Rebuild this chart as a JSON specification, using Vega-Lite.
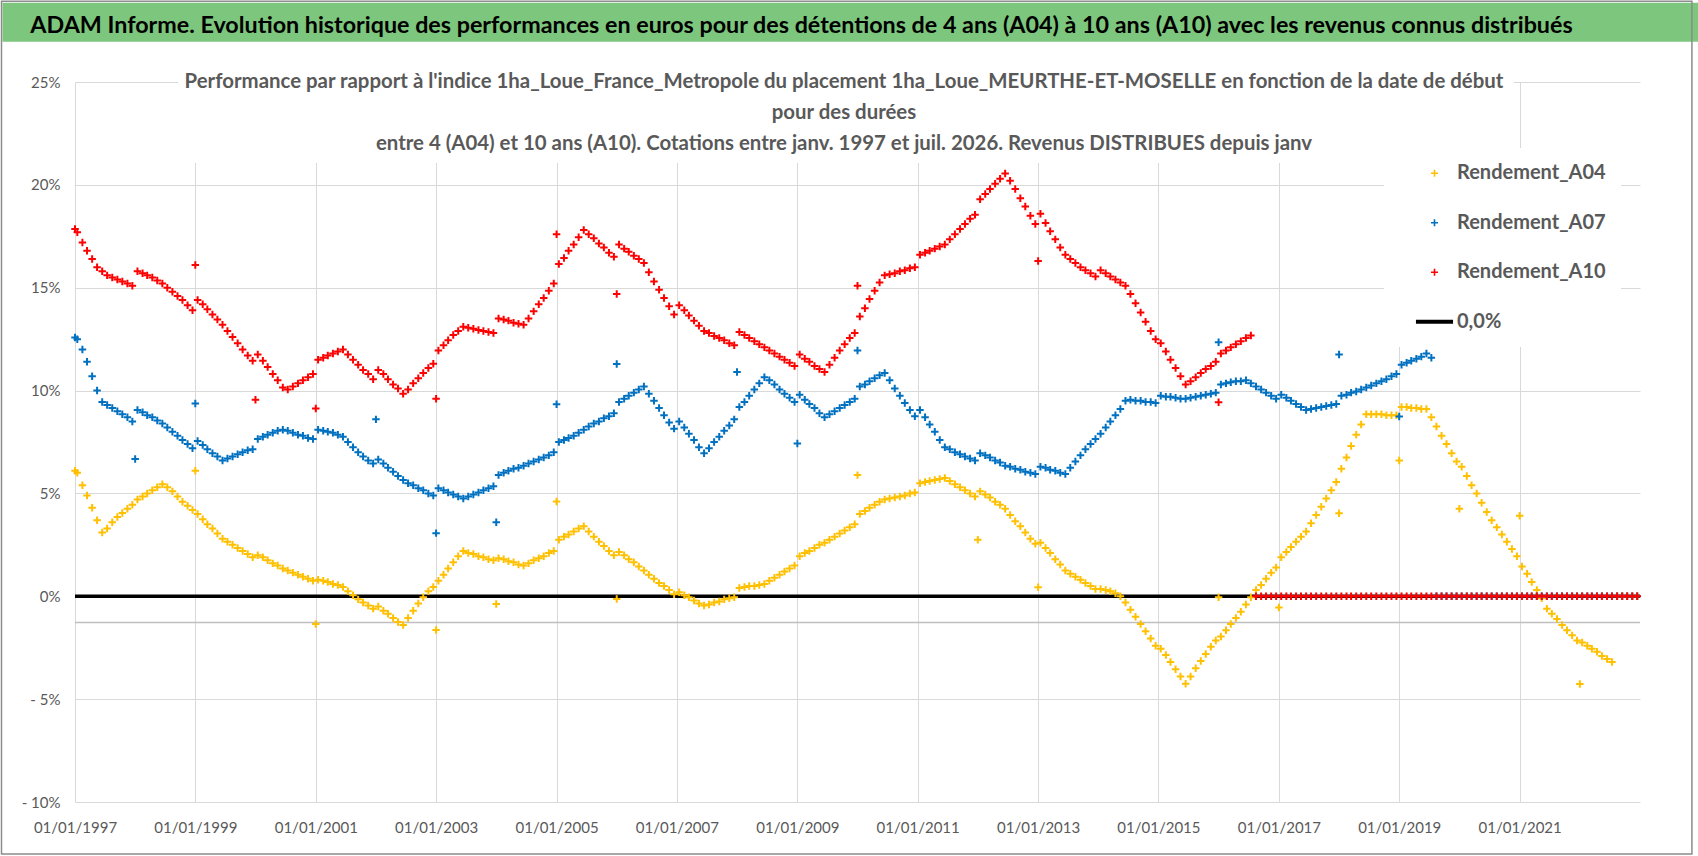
{
"$schema":"https://vega.github.io/schema/vega-lite/v6.json",
"width":1565,"height":720,
"autosize":{"type":"none"},
"padding":{"left":75,"top":82,"right":58,"bottom":54},
"background":"white",
"config":{"view":{"stroke":null},"font":"Lato",
 "axis":{"grid":true,"gridColor":"#D9D9D9","gridWidth":1,"domain":false,"ticks":false,"tickSize":0,"labelFont":"Lato","labelFontSize":15,"labelColor":"#595959","title":null}},
"data":{"values":[
{"d":"1997-01-01","A04":6.1,"A07":12.58,"A10":17.85},
{"d":"1997-01-15","A04":6.0,"A07":12.5,"A10":17.7},
{"d":"1997-02-15","A04":5.4,"A07":12.0,"A10":17.2},
{"d":"1997-03-15","A04":4.9,"A07":11.4,"A10":16.8},
{"d":"1997-04-15","A04":4.3,"A07":10.7,"A10":16.4},
{"d":"1997-05-15","A04":3.7,"A07":10.0,"A10":16.0},
{"d":"1997-06-15","A04":3.1,"A07":9.45,"A10":15.8},
{"d":"1997-07-15","A04":3.3,"A07":9.3,"A10":15.6},
{"d":"1997-08-15","A04":3.6,"A07":9.15,"A10":15.5},
{"d":"1997-09-15","A04":3.85,"A07":9.0,"A10":15.4},
{"d":"1997-10-15","A04":4.05,"A07":8.85,"A10":15.3},
{"d":"1997-11-15","A04":4.25,"A07":8.7,"A10":15.2},
{"d":"1997-12-15","A04":4.45,"A07":8.5,"A10":15.1},
{"d":"1998-01-01","A07":6.67},
{"d":"1998-01-15","A04":4.7,"A07":9.05,"A10":15.8},
{"d":"1998-02-15","A04":4.85,"A07":8.95,"A10":15.7},
{"d":"1998-03-15","A04":5.0,"A07":8.8,"A10":15.6},
{"d":"1998-04-15","A04":5.15,"A07":8.7,"A10":15.5},
{"d":"1998-05-15","A04":5.3,"A07":8.55,"A10":15.35},
{"d":"1998-06-15","A04":5.45,"A07":8.4,"A10":15.2},
{"d":"1998-07-15","A04":5.3,"A07":8.2,"A10":15.0},
{"d":"1998-08-15","A04":5.1,"A07":8.0,"A10":14.8},
{"d":"1998-09-15","A04":4.85,"A07":7.8,"A10":14.6},
{"d":"1998-10-15","A04":4.6,"A07":7.6,"A10":14.4},
{"d":"1998-11-15","A04":4.4,"A07":7.4,"A10":14.15},
{"d":"1998-12-15","A04":4.2,"A07":7.2,"A10":13.9},
{"d":"1999-01-01","A04":6.1,"A07":9.37,"A10":16.1},
{"d":"1999-01-15","A04":4.0,"A07":7.55,"A10":14.4},
{"d":"1999-02-15","A04":3.75,"A07":7.35,"A10":14.2},
{"d":"1999-03-15","A04":3.5,"A07":7.15,"A10":13.95},
{"d":"1999-04-15","A04":3.3,"A07":6.95,"A10":13.7},
{"d":"1999-05-15","A04":3.05,"A07":6.8,"A10":13.45},
{"d":"1999-06-15","A04":2.8,"A07":6.6,"A10":13.2},
{"d":"1999-07-15","A04":2.65,"A07":6.7,"A10":12.9},
{"d":"1999-08-15","A04":2.5,"A07":6.8,"A10":12.6},
{"d":"1999-09-15","A04":2.35,"A07":6.9,"A10":12.3},
{"d":"1999-10-15","A04":2.2,"A07":7.0,"A10":12.0},
{"d":"1999-11-15","A04":2.05,"A07":7.1,"A10":11.7},
{"d":"1999-12-15","A04":1.9,"A07":7.15,"A10":11.45},
{"d":"2000-01-01","A10":9.55},
{"d":"2000-01-15","A04":2.0,"A07":7.65,"A10":11.75},
{"d":"2000-02-15","A04":1.9,"A07":7.75,"A10":11.45},
{"d":"2000-03-15","A04":1.75,"A07":7.85,"A10":11.15},
{"d":"2000-04-15","A04":1.6,"A07":7.95,"A10":10.8},
{"d":"2000-05-15","A04":1.5,"A07":8.05,"A10":10.5},
{"d":"2000-06-15","A04":1.35,"A07":8.1,"A10":10.15},
{"d":"2000-07-15","A04":1.25,"A07":8.05,"A10":10.05},
{"d":"2000-08-15","A04":1.15,"A07":7.95,"A10":10.2},
{"d":"2000-09-15","A04":1.05,"A07":7.85,"A10":10.35},
{"d":"2000-10-15","A04":0.95,"A07":7.8,"A10":10.5},
{"d":"2000-11-15","A04":0.85,"A07":7.7,"A10":10.65},
{"d":"2000-12-15","A04":0.75,"A07":7.65,"A10":10.8},
{"d":"2001-01-01","A04":-1.35,"A10":9.13},
{"d":"2001-01-15","A04":0.8,"A07":8.1,"A10":11.5},
{"d":"2001-02-15","A04":0.75,"A07":8.05,"A10":11.6},
{"d":"2001-03-15","A04":0.7,"A07":8.0,"A10":11.7},
{"d":"2001-04-15","A04":0.6,"A07":7.95,"A10":11.8},
{"d":"2001-05-15","A04":0.55,"A07":7.85,"A10":11.9},
{"d":"2001-06-15","A04":0.45,"A07":7.75,"A10":12.0},
{"d":"2001-07-15","A04":0.25,"A07":7.5,"A10":11.75},
{"d":"2001-08-15","A04":0.05,"A07":7.25,"A10":11.5},
{"d":"2001-09-15","A04":-0.15,"A07":7.0,"A10":11.25},
{"d":"2001-10-15","A04":-0.3,"A07":6.8,"A10":11.0},
{"d":"2001-11-15","A04":-0.45,"A07":6.6,"A10":10.8},
{"d":"2001-12-15","A04":-0.6,"A07":6.45,"A10":10.55},
{"d":"2002-01-01","A07":8.6},
{"d":"2002-01-15","A04":-0.5,"A07":6.65,"A10":11.0},
{"d":"2002-02-15","A04":-0.7,"A07":6.45,"A10":10.8},
{"d":"2002-03-15","A04":-0.85,"A07":6.25,"A10":10.55},
{"d":"2002-04-15","A04":-1.05,"A07":6.05,"A10":10.3},
{"d":"2002-05-15","A04":-1.25,"A07":5.85,"A10":10.1},
{"d":"2002-06-15","A04":-1.4,"A07":5.65,"A10":9.85},
{"d":"2002-07-15","A04":-1.05,"A07":5.5,"A10":10.05},
{"d":"2002-08-15","A04":-0.7,"A07":5.4,"A10":10.35},
{"d":"2002-09-15","A04":-0.35,"A07":5.25,"A10":10.6},
{"d":"2002-10-15","A04":-0.05,"A07":5.15,"A10":10.85},
{"d":"2002-11-15","A04":0.25,"A07":5.0,"A10":11.1},
{"d":"2002-12-15","A04":0.45,"A07":4.9,"A10":11.3},
{"d":"2003-01-01","A04":-1.64,"A07":3.07,"A10":9.6},
{"d":"2003-01-15","A04":0.75,"A07":5.25,"A10":11.95},
{"d":"2003-02-15","A04":1.05,"A07":5.15,"A10":12.2},
{"d":"2003-03-15","A04":1.35,"A07":5.05,"A10":12.45},
{"d":"2003-04-15","A04":1.65,"A07":4.95,"A10":12.7},
{"d":"2003-05-15","A04":1.95,"A07":4.85,"A10":12.9},
{"d":"2003-06-15","A04":2.2,"A07":4.75,"A10":13.1},
{"d":"2003-07-15","A04":2.1,"A07":4.85,"A10":13.05},
{"d":"2003-08-15","A04":2.05,"A07":4.95,"A10":13.0},
{"d":"2003-09-15","A04":1.95,"A07":5.05,"A10":12.95},
{"d":"2003-10-15","A04":1.9,"A07":5.15,"A10":12.9},
{"d":"2003-11-15","A04":1.8,"A07":5.25,"A10":12.85},
{"d":"2003-12-15","A04":1.75,"A07":5.35,"A10":12.8},
{"d":"2004-01-01","A04":-0.38,"A07":3.6},
{"d":"2004-01-15","A04":1.85,"A07":5.9,"A10":13.5},
{"d":"2004-02-15","A04":1.8,"A07":6.0,"A10":13.45},
{"d":"2004-03-15","A04":1.7,"A07":6.1,"A10":13.4},
{"d":"2004-04-15","A04":1.65,"A07":6.2,"A10":13.3},
{"d":"2004-05-15","A04":1.55,"A07":6.25,"A10":13.25},
{"d":"2004-06-15","A04":1.5,"A07":6.35,"A10":13.2},
{"d":"2004-07-15","A04":1.6,"A07":6.45,"A10":13.5},
{"d":"2004-08-15","A04":1.75,"A07":6.55,"A10":13.85},
{"d":"2004-09-15","A04":1.85,"A07":6.65,"A10":14.2},
{"d":"2004-10-15","A04":1.95,"A07":6.75,"A10":14.5},
{"d":"2004-11-15","A04":2.1,"A07":6.85,"A10":14.85},
{"d":"2004-12-15","A04":2.2,"A07":7.0,"A10":15.2},
{"d":"2005-01-01","A04":4.61,"A07":9.34,"A10":17.6},
{"d":"2005-01-15","A04":2.75,"A07":7.5,"A10":16.15},
{"d":"2005-02-15","A04":2.9,"A07":7.6,"A10":16.45},
{"d":"2005-03-15","A04":3.0,"A07":7.7,"A10":16.8},
{"d":"2005-04-15","A04":3.15,"A07":7.8,"A10":17.1},
{"d":"2005-05-15","A04":3.3,"A07":7.95,"A10":17.45},
{"d":"2005-06-15","A04":3.4,"A07":8.1,"A10":17.8},
{"d":"2005-07-15","A04":3.15,"A07":8.25,"A10":17.6},
{"d":"2005-08-15","A04":2.9,"A07":8.4,"A10":17.4},
{"d":"2005-09-15","A04":2.65,"A07":8.5,"A10":17.15},
{"d":"2005-10-15","A04":2.45,"A07":8.65,"A10":16.95},
{"d":"2005-11-15","A04":2.2,"A07":8.75,"A10":16.7},
{"d":"2005-12-15","A04":2.0,"A07":8.9,"A10":16.5},
{"d":"2006-01-01","A04":-0.13,"A07":11.29,"A10":14.7},
{"d":"2006-01-15","A04":2.15,"A07":9.45,"A10":17.1},
{"d":"2006-02-15","A04":2.0,"A07":9.6,"A10":16.9},
{"d":"2006-03-15","A04":1.8,"A07":9.75,"A10":16.75},
{"d":"2006-04-15","A04":1.65,"A07":9.9,"A10":16.55},
{"d":"2006-05-15","A04":1.45,"A07":10.05,"A10":16.4},
{"d":"2006-06-15","A04":1.25,"A07":10.2,"A10":16.2},
{"d":"2006-07-15","A04":1.05,"A07":9.85,"A10":15.75},
{"d":"2006-08-15","A04":0.85,"A07":9.5,"A10":15.3},
{"d":"2006-09-15","A04":0.65,"A07":9.15,"A10":14.9},
{"d":"2006-10-15","A04":0.5,"A07":8.8,"A10":14.5},
{"d":"2006-11-15","A04":0.3,"A07":8.45,"A10":14.1},
{"d":"2006-12-15","A04":0.1,"A07":8.15,"A10":13.7},
{"d":"2007-01-15","A04":0.2,"A07":8.5,"A10":14.15},
{"d":"2007-02-15","A04":0.05,"A07":8.2,"A10":13.9},
{"d":"2007-03-15","A04":-0.05,"A07":7.9,"A10":13.65},
{"d":"2007-04-15","A04":-0.2,"A07":7.6,"A10":13.4},
{"d":"2007-05-15","A04":-0.35,"A07":7.25,"A10":13.15},
{"d":"2007-06-15","A04":-0.45,"A07":6.95,"A10":12.9},
{"d":"2007-07-15","A04":-0.4,"A07":7.2,"A10":12.8},
{"d":"2007-08-15","A04":-0.3,"A07":7.5,"A10":12.65},
{"d":"2007-09-15","A04":-0.25,"A07":7.75,"A10":12.55},
{"d":"2007-10-15","A04":-0.15,"A07":8.05,"A10":12.45},
{"d":"2007-11-15","A04":-0.1,"A07":8.3,"A10":12.3},
{"d":"2007-12-15","A04":-0.05,"A07":8.6,"A10":12.2},
{"d":"2008-01-01","A07":10.9},
{"d":"2008-01-15","A04":0.4,"A07":9.2,"A10":12.85},
{"d":"2008-02-15","A04":0.45,"A07":9.45,"A10":12.7},
{"d":"2008-03-15","A04":0.5,"A07":9.75,"A10":12.55},
{"d":"2008-04-15","A04":0.5,"A07":10.05,"A10":12.4},
{"d":"2008-05-15","A04":0.55,"A07":10.35,"A10":12.25},
{"d":"2008-06-15","A04":0.6,"A07":10.65,"A10":12.1},
{"d":"2008-07-15","A04":0.75,"A07":10.5,"A10":11.95},
{"d":"2008-08-15","A04":0.9,"A07":10.3,"A10":11.8},
{"d":"2008-09-15","A04":1.05,"A07":10.05,"A10":11.65},
{"d":"2008-10-15","A04":1.2,"A07":9.85,"A10":11.5},
{"d":"2008-11-15","A04":1.35,"A07":9.65,"A10":11.35},
{"d":"2008-12-15","A04":1.5,"A07":9.45,"A10":11.2},
{"d":"2009-01-01","A07":7.43},
{"d":"2009-01-15","A04":1.95,"A07":9.8,"A10":11.75},
{"d":"2009-02-15","A04":2.1,"A07":9.55,"A10":11.55},
{"d":"2009-03-15","A04":2.2,"A07":9.35,"A10":11.4},
{"d":"2009-04-15","A04":2.35,"A07":9.15,"A10":11.2},
{"d":"2009-05-15","A04":2.5,"A07":8.9,"A10":11.05},
{"d":"2009-06-15","A04":2.6,"A07":8.7,"A10":10.9},
{"d":"2009-07-15","A04":2.75,"A07":8.85,"A10":11.25},
{"d":"2009-08-15","A04":2.9,"A07":9.0,"A10":11.6},
{"d":"2009-09-15","A04":3.05,"A07":9.15,"A10":11.95},
{"d":"2009-10-15","A04":3.2,"A07":9.3,"A10":12.25},
{"d":"2009-11-15","A04":3.35,"A07":9.45,"A10":12.55},
{"d":"2009-12-15","A04":3.5,"A07":9.6,"A10":12.8},
{"d":"2010-01-01","A04":5.89,"A07":11.95,"A10":15.1},
{"d":"2010-01-15","A04":4.0,"A07":10.2,"A10":13.6},
{"d":"2010-02-15","A04":4.15,"A07":10.3,"A10":14.0},
{"d":"2010-03-15","A04":4.3,"A07":10.45,"A10":14.45},
{"d":"2010-04-15","A04":4.45,"A07":10.6,"A10":14.85},
{"d":"2010-05-15","A04":4.6,"A07":10.75,"A10":15.25},
{"d":"2010-06-15","A04":4.7,"A07":10.85,"A10":15.6},
{"d":"2010-07-15","A04":4.75,"A07":10.5,"A10":15.65},
{"d":"2010-08-15","A04":4.8,"A07":10.1,"A10":15.7},
{"d":"2010-09-15","A04":4.85,"A07":9.75,"A10":15.8},
{"d":"2010-10-15","A04":4.9,"A07":9.4,"A10":15.85},
{"d":"2010-11-15","A04":5.0,"A07":9.05,"A10":15.95},
{"d":"2010-12-15","A04":5.05,"A07":8.75,"A10":16.0},
{"d":"2011-01-15","A04":5.5,"A07":9.05,"A10":16.6},
{"d":"2011-02-15","A04":5.55,"A07":8.7,"A10":16.7},
{"d":"2011-03-15","A04":5.6,"A07":8.35,"A10":16.8},
{"d":"2011-04-15","A04":5.65,"A07":8.0,"A10":16.9},
{"d":"2011-05-15","A04":5.7,"A07":7.6,"A10":17.0},
{"d":"2011-06-15","A04":5.75,"A07":7.25,"A10":17.1},
{"d":"2011-07-15","A04":5.6,"A07":7.15,"A10":17.35},
{"d":"2011-08-15","A04":5.45,"A07":7.0,"A10":17.6},
{"d":"2011-09-15","A04":5.3,"A07":6.9,"A10":17.85},
{"d":"2011-10-15","A04":5.15,"A07":6.8,"A10":18.1},
{"d":"2011-11-15","A04":5.0,"A07":6.7,"A10":18.35},
{"d":"2011-12-15","A04":4.85,"A07":6.6,"A10":18.55},
{"d":"2012-01-01","A04":2.75},
{"d":"2012-01-15","A04":5.1,"A07":6.95,"A10":19.3},
{"d":"2012-02-15","A04":4.95,"A07":6.85,"A10":19.55},
{"d":"2012-03-15","A04":4.8,"A07":6.75,"A10":19.8},
{"d":"2012-04-15","A04":4.6,"A07":6.6,"A10":20.05},
{"d":"2012-05-15","A04":4.45,"A07":6.5,"A10":20.3},
{"d":"2012-06-15","A04":4.25,"A07":6.35,"A10":20.55},
{"d":"2012-07-15","A04":3.95,"A07":6.3,"A10":20.2},
{"d":"2012-08-15","A04":3.65,"A07":6.2,"A10":19.8},
{"d":"2012-09-15","A04":3.4,"A07":6.15,"A10":19.35},
{"d":"2012-10-15","A04":3.1,"A07":6.05,"A10":18.95},
{"d":"2012-11-15","A04":2.8,"A07":6.0,"A10":18.5},
{"d":"2012-12-15","A04":2.55,"A07":5.95,"A10":18.1},
{"d":"2013-01-01","A04":0.44,"A10":16.3},
{"d":"2013-01-15","A04":2.6,"A07":6.3,"A10":18.6},
{"d":"2013-02-15","A04":2.35,"A07":6.25,"A10":18.15},
{"d":"2013-03-15","A04":2.1,"A07":6.15,"A10":17.75},
{"d":"2013-04-15","A04":1.8,"A07":6.1,"A10":17.35},
{"d":"2013-05-15","A04":1.55,"A07":6.0,"A10":16.95},
{"d":"2013-06-15","A04":1.25,"A07":5.95,"A10":16.6},
{"d":"2013-07-15","A04":1.1,"A07":6.25,"A10":16.4},
{"d":"2013-08-15","A04":0.95,"A07":6.55,"A10":16.2},
{"d":"2013-09-15","A04":0.8,"A07":6.85,"A10":16.0},
{"d":"2013-10-15","A04":0.65,"A07":7.15,"A10":15.85},
{"d":"2013-11-15","A04":0.5,"A07":7.4,"A10":15.7},
{"d":"2013-12-15","A04":0.35,"A07":7.65,"A10":15.55},
{"d":"2014-01-15","A04":0.35,"A07":7.9,"A10":15.85},
{"d":"2014-02-15","A04":0.3,"A07":8.2,"A10":15.7},
{"d":"2014-03-15","A04":0.25,"A07":8.5,"A10":15.55},
{"d":"2014-04-15","A04":0.15,"A07":8.8,"A10":15.4},
{"d":"2014-05-15","A04":0.0,"A07":9.1,"A10":15.25},
{"d":"2014-06-15","A04":-0.3,"A07":9.5,"A10":15.1},
{"d":"2014-07-15","A04":-0.65,"A07":9.55,"A10":14.7},
{"d":"2014-08-15","A04":-1.0,"A07":9.5,"A10":14.25},
{"d":"2014-09-15","A04":-1.35,"A07":9.5,"A10":13.8},
{"d":"2014-10-15","A04":-1.7,"A07":9.45,"A10":13.35},
{"d":"2014-11-15","A04":-2.05,"A07":9.45,"A10":12.9},
{"d":"2014-12-15","A04":-2.4,"A07":9.4,"A10":12.5},
{"d":"2015-01-15","A04":-2.55,"A07":9.75,"A10":12.3},
{"d":"2015-02-15","A04":-2.85,"A07":9.7,"A10":11.9},
{"d":"2015-03-15","A04":-3.2,"A07":9.7,"A10":11.5},
{"d":"2015-04-15","A04":-3.55,"A07":9.65,"A10":11.1},
{"d":"2015-05-15","A04":-3.9,"A07":9.6,"A10":10.7},
{"d":"2015-06-15","A04":-4.25,"A07":9.6,"A10":10.3},
{"d":"2015-07-15","A04":-3.9,"A07":9.65,"A10":10.45},
{"d":"2015-08-15","A04":-3.5,"A07":9.7,"A10":10.65},
{"d":"2015-09-15","A04":-3.15,"A07":9.75,"A10":10.85},
{"d":"2015-10-15","A04":-2.8,"A07":9.8,"A10":11.05},
{"d":"2015-11-15","A04":-2.45,"A07":9.85,"A10":11.2},
{"d":"2015-12-15","A04":-2.15,"A07":9.9,"A10":11.4},
{"d":"2016-01-01","A04":-0.05,"A07":12.35,"A10":9.43},
{"d":"2016-01-15","A04":-1.95,"A07":10.3,"A10":11.8},
{"d":"2016-02-15","A04":-1.65,"A07":10.35,"A10":11.95},
{"d":"2016-03-15","A04":-1.35,"A07":10.4,"A10":12.1},
{"d":"2016-04-15","A04":-1.05,"A07":10.45,"A10":12.25},
{"d":"2016-05-15","A04":-0.75,"A07":10.45,"A10":12.4},
{"d":"2016-06-15","A04":-0.4,"A07":10.5,"A10":12.55},
{"d":"2016-07-15","A04":-0.05,"A07":10.35,"A10":12.68},
{"d":"2016-08-15","A04":0.3,"A07":10.2,"A10":0},
{"d":"2016-09-15","A04":0.55,"A07":10.05,"A10":0},
{"d":"2016-10-15","A04":0.85,"A07":9.9,"A10":0},
{"d":"2016-11-15","A04":1.15,"A07":9.75,"A10":0},
{"d":"2016-12-15","A04":1.4,"A07":9.6,"A10":0},
{"d":"2017-01-01","A04":-0.54},
{"d":"2017-01-15","A04":1.9,"A07":9.8,"A10":0},
{"d":"2017-02-15","A04":2.15,"A07":9.65,"A10":0},
{"d":"2017-03-15","A04":2.4,"A07":9.5,"A10":0},
{"d":"2017-04-15","A04":2.65,"A07":9.35,"A10":0},
{"d":"2017-05-15","A04":2.9,"A07":9.2,"A10":0},
{"d":"2017-06-15","A04":3.15,"A07":9.05,"A10":0},
{"d":"2017-07-15","A04":3.55,"A07":9.1,"A10":0},
{"d":"2017-08-15","A04":3.95,"A07":9.15,"A10":0},
{"d":"2017-09-15","A04":4.35,"A07":9.2,"A10":0},
{"d":"2017-10-15","A04":4.75,"A07":9.25,"A10":0},
{"d":"2017-11-15","A04":5.15,"A07":9.3,"A10":0},
{"d":"2017-12-15","A04":5.55,"A07":9.35,"A10":0},
{"d":"2018-01-01","A04":4.04,"A07":11.75},
{"d":"2018-01-15","A04":6.2,"A07":9.75,"A10":0},
{"d":"2018-02-15","A04":6.75,"A07":9.8,"A10":0},
{"d":"2018-03-15","A04":7.3,"A07":9.9,"A10":0},
{"d":"2018-04-15","A04":7.85,"A07":9.95,"A10":0},
{"d":"2018-05-15","A04":8.35,"A07":10.05,"A10":0},
{"d":"2018-06-15","A04":8.85,"A07":10.15,"A10":0},
{"d":"2018-07-15","A04":8.85,"A07":10.25,"A10":0},
{"d":"2018-08-15","A04":8.85,"A07":10.35,"A10":0},
{"d":"2018-09-15","A04":8.85,"A07":10.45,"A10":0},
{"d":"2018-10-15","A04":8.8,"A07":10.55,"A10":0},
{"d":"2018-11-15","A04":8.8,"A07":10.7,"A10":0},
{"d":"2018-12-15","A04":8.8,"A07":10.8,"A10":0},
{"d":"2019-01-01","A04":6.6,"A07":8.74},
{"d":"2019-01-15","A04":9.2,"A07":11.25,"A10":0},
{"d":"2019-02-15","A04":9.2,"A07":11.35,"A10":0},
{"d":"2019-03-15","A04":9.15,"A07":11.45,"A10":0},
{"d":"2019-04-15","A04":9.15,"A07":11.55,"A10":0},
{"d":"2019-05-15","A04":9.1,"A07":11.65,"A10":0},
{"d":"2019-06-15","A04":9.1,"A07":11.8,"A10":0},
{"d":"2019-07-15","A04":8.7,"A07":11.6,"A10":0},
{"d":"2019-08-15","A04":8.25,"A07":0,"A10":0},
{"d":"2019-09-15","A04":7.8,"A07":0,"A10":0},
{"d":"2019-10-15","A04":7.4,"A07":0,"A10":0},
{"d":"2019-11-15","A04":6.95,"A07":0,"A10":0},
{"d":"2019-12-15","A04":6.55,"A07":0,"A10":0},
{"d":"2020-01-01","A04":4.25},
{"d":"2020-01-15","A04":6.3,"A07":0,"A10":0},
{"d":"2020-02-15","A04":5.85,"A07":0,"A10":0},
{"d":"2020-03-15","A04":5.4,"A07":0,"A10":0},
{"d":"2020-04-15","A04":5.0,"A07":0,"A10":0},
{"d":"2020-05-15","A04":4.55,"A07":0,"A10":0},
{"d":"2020-06-15","A04":4.1,"A07":0,"A10":0},
{"d":"2020-07-15","A04":3.7,"A07":0,"A10":0},
{"d":"2020-08-15","A04":3.35,"A07":0,"A10":0},
{"d":"2020-09-15","A04":3.0,"A07":0,"A10":0},
{"d":"2020-10-15","A04":2.65,"A07":0,"A10":0},
{"d":"2020-11-15","A04":2.3,"A07":0,"A10":0},
{"d":"2020-12-15","A04":1.95,"A07":0,"A10":0},
{"d":"2021-01-01","A04":3.92},
{"d":"2021-01-15","A04":1.45,"A07":0,"A10":0},
{"d":"2021-02-15","A04":1.1,"A07":0,"A10":0},
{"d":"2021-03-15","A04":0.7,"A07":0,"A10":0},
{"d":"2021-04-15","A04":0.3,"A07":0,"A10":0},
{"d":"2021-05-15","A04":-0.1,"A07":0,"A10":0},
{"d":"2021-06-15","A04":-0.6,"A07":0,"A10":0},
{"d":"2021-07-15","A04":-0.85,"A07":0,"A10":0},
{"d":"2021-08-15","A04":-1.1,"A07":0,"A10":0},
{"d":"2021-09-15","A04":-1.4,"A07":0,"A10":0},
{"d":"2021-10-15","A04":-1.65,"A07":0,"A10":0},
{"d":"2021-11-15","A04":-1.9,"A07":0,"A10":0},
{"d":"2021-12-15","A04":-2.15,"A07":0,"A10":0},
{"d":"2022-01-01","A04":-4.26},
{"d":"2022-01-15","A04":-2.25,"A07":0,"A10":0},
{"d":"2022-02-15","A04":-2.4,"A07":0,"A10":0},
{"d":"2022-03-15","A04":-2.55,"A07":0,"A10":0},
{"d":"2022-04-15","A04":-2.7,"A07":0,"A10":0},
{"d":"2022-05-15","A04":-2.9,"A07":0,"A10":0},
{"d":"2022-06-15","A04":-3.05,"A07":0,"A10":0},
{"d":"2022-07-15","A04":-3.2,"A07":0,"A10":0},
{"d":"2022-08-15","A04":0,"A07":0,"A10":0},
{"d":"2022-09-15","A04":0,"A07":0,"A10":0},
{"d":"2022-10-15","A04":0,"A07":0,"A10":0},
{"d":"2022-11-15","A04":0,"A07":0,"A10":0},
{"d":"2022-12-15","A04":0,"A07":0,"A10":0}
]},
"layer":[
{"data":{"values":[{}]},
 "mark":{"type":"rect","fill":"#7DC67D"},
 "encoding":{
  "x":{"datum":{"year":1995,"month":10,"date":19},"type":"temporal","scale":{"domain":[{"year":1997,"month":1,"date":1},{"year":2023,"month":1,"date":1}]}},
  "x2":{"datum":{"year":2023,"month":12,"date":19}},
  "y":{"datum":28.855,"type":"quantitative","scale":{"domain":[-10,25],"nice":false,"zero":false}},
  "y2":{"datum":26.96}}},
{"data":{"values":[{}]},
 "mark":{"type":"rect","fill":null,"stroke":"#8C8C8C","strokeWidth":1.5},
 "encoding":{
  "x":{"datum":{"year":1995,"month":10,"date":13},"type":"temporal","scale":{"domain":[{"year":1997,"month":1,"date":1},{"year":2023,"month":1,"date":1}]}},
  "x2":{"datum":{"year":2023,"month":11,"date":12}},
  "y":{"datum":28.93,"type":"quantitative","scale":{"domain":[-10,25],"nice":false,"zero":false}},
  "y2":{"datum":-12.53}}},
{"data":{"values":[{}]},
 "mark":{"type":"rect","fill":"white"},
 "encoding":{
  "x":{"datum":{"year":1998,"month":9,"date":18},"type":"temporal","scale":{"domain":[{"year":1997,"month":1,"date":1},{"year":2023,"month":1,"date":1}]}},
  "x2":{"datum":{"year":2020,"month":11,"date":27}},
  "y":{"datum":25.39,"type":"quantitative","scale":{"domain":[-10,25],"nice":false,"zero":false}},
  "y2":{"datum":21.06}}},
{"data":{"values":[{}]},
 "mark":{"type":"rule","color":"#BFBFBF","strokeWidth":1.5},
 "encoding":{"y":{"datum":-1.28,"type":"quantitative","scale":{"domain":[-10,25],"nice":false,"zero":false}}}},
{"data":{"values":[{}]},
 "mark":{"type":"rule","strokeWidth":3.5},
 "encoding":{"y":{"datum":0,"type":"quantitative","scale":{"domain":[-10,25],"nice":false,"zero":false}},
  "color":{"datum":"0,0%","type":"nominal",
   "scale":{"domain":["A04","A07","A10","0,0%"],"range":["#FFC000","#0070C0","#FF0000","#000000"]},
   "legend":{"orient":"none","legendX":1309,"legendY":66,"title":null,"fillColor":"white","padding":15.25,
    "symbolOffset":25.25,"symbolSize":49,"rowPadding":29.5,"labelOffset":12.5,
    "labelFont":"Lato","labelFontSize":20,"labelFontWeight":"bold","labelColor":"#595959",
    "labelExpr":"datum.value == '0,0%' ? datum.value : 'Rendement_' + datum.value",
    "encode":{"symbols":{"update":{
      "shape":{"signal":"datum.value == '0,0%' ? 'M-5.3,0H5.3' : 'M-1,0H1M0,-1V1'"},
      "fill":{"value":"transparent"},
      "strokeWidth":{"signal":"datum.value == '0,0%' ? 4 : 1.6"}}}}}}}},
{"transform":[{"fold":["A04","A07","A10"],"as":["serie","v"]},{"filter":"isValid(datum.v)"}],
 "mark":{"type":"point","shape":"M-1,0H1M0,-1V1","filled":false,"size":56,"strokeWidth":2,"opacity":1},
 "encoding":{
  "x":{"field":"d","type":"temporal","scale":{"domain":[{"year":1997,"month":1,"date":1},{"year":2023,"month":1,"date":1}]},
   "axis":{"values":[{"year":1997,"month":1,"date":1},{"year":1999,"month":1,"date":1},{"year":2001,"month":1,"date":1},{"year":2003,"month":1,"date":1},{"year":2005,"month":1,"date":1},{"year":2007,"month":1,"date":1},{"year":2009,"month":1,"date":1},{"year":2011,"month":1,"date":1},{"year":2013,"month":1,"date":1},{"year":2015,"month":1,"date":1},{"year":2017,"month":1,"date":1},{"year":2019,"month":1,"date":1},{"year":2021,"month":1,"date":1}],
    "format":"%d/%m/%Y","labelPadding":18,"labelOverlap":false,"labelFlush":false}},
  "y":{"field":"v","type":"quantitative","scale":{"domain":[-10,25],"nice":false,"zero":false},
   "axis":{"values":[-10,-5,0,5,10,15,20,25],"labelExpr":"datum.value < 0 ? '- ' + abs(datum.value) + '%' : datum.value + '%'","labelPadding":15}},
  "color":{"field":"serie","type":"nominal",
   "scale":{"domain":["A04","A07","A10","0,0%"],"range":["#FFC000","#0070C0","#FF0000","#000000"]},
   "legend":{"orient":"none","legendX":1309,"legendY":66,"title":null,"fillColor":"white","padding":15.25,
    "symbolOffset":25.25,"symbolSize":49,"rowPadding":29.5,"labelOffset":12.5,
    "labelFont":"Lato","labelFontSize":20,"labelFontWeight":"bold","labelColor":"#595959",
    "labelExpr":"datum.value == '0,0%' ? datum.value : 'Rendement_' + datum.value",
    "encode":{"symbols":{"update":{
      "shape":{"signal":"datum.value == '0,0%' ? 'M-5.3,0H5.3' : 'M-1,0H1M0,-1V1'"},
      "fill":{"value":"transparent"},
      "strokeWidth":{"signal":"datum.value == '0,0%' ? 4 : 1.6"}}}}}},
  "order":{"field":"serie"}}},
{"data":{"values":[{}]},
 "mark":{"type":"text","font":"Lato","fontSize":23.3,"fontWeight":"bold","color":"#000000","align":"center","baseline":"alphabetic",
  "text":"ADAM Informe. Evolution historique des performances en euros pour des détentions de 4 ans (A04) à 10 ans (A10) avec les revenus connus distribués"},
 "encoding":{
  "x":{"datum":{"year":2009,"month":1,"date":26},"type":"temporal","scale":{"domain":[{"year":1997,"month":1,"date":1},{"year":2023,"month":1,"date":1}]}},
  "y":{"datum":27.37,"type":"quantitative","scale":{"domain":[-10,25],"nice":false,"zero":false}}}},
{"data":{"values":[{}]},
 "mark":{"type":"text","font":"Lato","fontSize":20.4,"fontWeight":"bold","color":"#595959","align":"center","baseline":"alphabetic","lineHeight":31,
  "text":["Performance par rapport à l'indice 1ha_Loue_France_Metropole  du placement 1ha_Loue_MEURTHE-ET-MOSELLE en fonction de la date de début","pour des durées","entre 4 (A04) et 10 ans (A10). Cotations entre janv. 1997 et juil. 2026. Revenus DISTRIBUES depuis janv"]},
 "encoding":{
  "x":{"datum":{"year":2009,"month":10,"date":11},"type":"temporal","scale":{"domain":[{"year":1997,"month":1,"date":1},{"year":2023,"month":1,"date":1}]}},
  "y":{"datum":24.73,"type":"quantitative","scale":{"domain":[-10,25],"nice":false,"zero":false}}}}
]
}
